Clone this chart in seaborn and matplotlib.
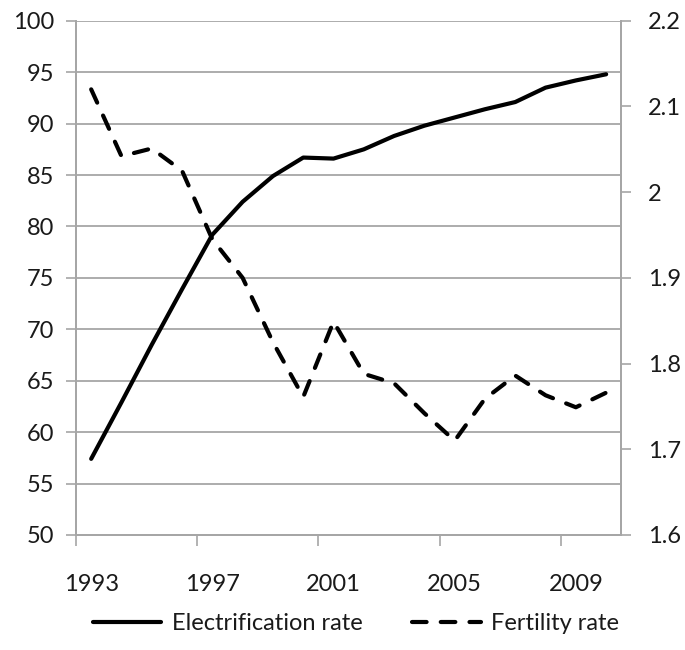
import matplotlib
matplotlib.use("Agg")
import matplotlib.pyplot as plt
import seaborn as sns
import pandas as pd
import numpy as np

years = list(range(1993, 2011))
electrification = [57.4, 62.9, 68.5, 73.9, 79.2, 82.4, 84.9, 86.7, 86.6, 87.5,
                   88.8, 89.8, 90.6, 91.4, 92.1, 93.5, 94.2, 94.8]
fertility = [2.12, 2.042, 2.051, 2.025, 1.945, 1.90, 1.825, 1.761, 1.849, 1.788,
             1.777, 1.742, 1.710, 1.759, 1.786, 1.763, 1.749, 1.766]
year_labels = ["1993", "1997", "2001", "2005", "2009"]
left_ticks = list(range(50, 101, 5))
right_ticks = [1.6, 1.7, 1.8, 1.9, 2.0, 2.1, 2.2]
right_labels = ["1.6", "1.7", "1.8", "1.9", "2", "2.1", "2.2"]

df = pd.DataFrame({"idx": np.arange(len(years)), "year": years,
                   "Electrification rate": electrification,
                   "Fertility rate": fertility})

sns.set_theme(style="white")
plt.rcParams['font.family'] = ['Lato', 'DejaVu Sans']

fig = plt.figure(figsize=(6.85, 6.5), dpi=100)
ax = fig.add_axes([0.111, 0.177, 0.796, 0.791])
ax2 = ax.twinx()

grid_c = "#a6a6a6"
fs = 17
txt_c = "#1a1a1a"

sns.lineplot(data=df, x="idx", y="Electrification rate", ax=ax, color="black",
             lw=3.0, solid_capstyle="round", label="Electrification rate", legend=False)
sns.lineplot(data=df, x="idx", y="Fertility rate", ax=ax2, color="black",
             lw=3.0, dashes=False, label="Fertility rate", legend=False)
ln2 = ax2.get_lines()[0]
ln2.set_linestyle((0, (3.5, 3.4)))
ln2.set_dash_capstyle("round")

ax.set_xlim(-0.5, len(years) - 0.5)
ax.set_ylim(50, 100)
ax2.set_ylim(1.6, 2.2)

ax.set_yticks(left_ticks)
ax.set_yticklabels([str(t) for t in left_ticks])
ax2.set_yticks(right_ticks)
ax2.set_yticklabels(right_labels)

ax.set_xticks(np.arange(-0.5, len(years), 4))
ax.set_xticklabels([])
ax.set_xticks([0, 4, 8, 12, 16], minor=True)
ax.set_xticklabels(year_labels, minor=True)
ax.tick_params(axis="x", which="major", length=8, width=1.2, color=grid_c, direction="out", bottom=True)
ax.tick_params(axis="x", which="minor", length=0, pad=28, labelsize=fs, colors=txt_c, bottom=True)
ax.tick_params(axis="y", length=7, width=1.2, color=grid_c, pad=9, labelsize=fs, labelcolor=txt_c, left=True)
ax2.tick_params(axis="y", length=7, width=1.2, color=grid_c, pad=12, labelsize=fs, labelcolor=txt_c, right=True)

ax.grid(axis="y", color=grid_c, lw=1.3)
ax.set_axisbelow(True)
ax.set_xlabel("")
ax.set_ylabel("")
ax2.set_ylabel("")

for a in (ax, ax2):
    a.spines["top"].set_visible(False)
    for s in ("left", "right", "bottom"):
        a.spines[s].set_color(grid_c)
        a.spines[s].set_linewidth(1.3)

h1 = ax.get_lines()[0]
fig.legend([h1, ln2], ["Electrification rate", "Fertility rate"], loc="center",
           bbox_to_anchor=(0.52, 0.041), ncol=2, frameon=False, fontsize=fs,
           handlelength=2.9, columnspacing=2.1, handletextpad=0.45, labelcolor=txt_c)

fig.savefig("out.png", dpi=100)
